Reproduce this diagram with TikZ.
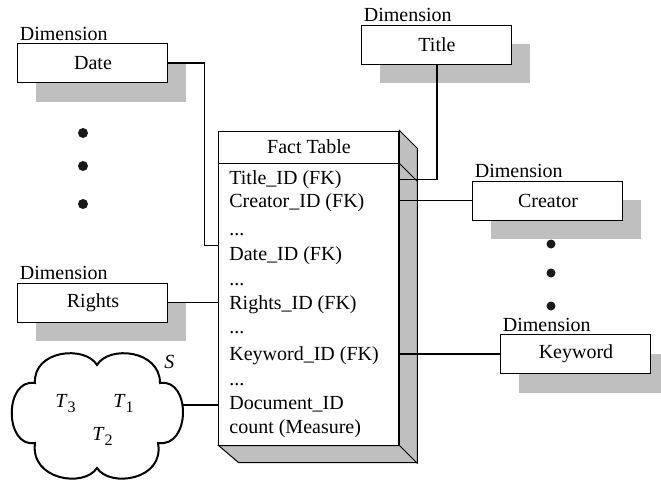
\documentclass[tikz,border=0pt]{standalone}
\usepackage{fontspec}
\setmainfont{Liberation Serif}
\usetikzlibrary{positioning, shadows}
\tikzstyle{dimbox} = [rectangle, minimum width=75pt, minimum height=19.5pt, text centered, draw=black, fill=white, line width=0.5pt, drop shadow={shadow xshift=9pt, shadow yshift=-9.5pt, fill=black!25, opacity=1}]
\tikzstyle{dimlabel} = [inner sep=1pt]
\tikzstyle{factface} = [rectangle, minimum width=90pt, minimum height=157pt, draw=black, fill=white, line width=0.5pt]
\tikzstyle{factside} = [draw=black, fill=black!25, line width=0.5pt]
\tikzstyle{row} = [anchor=base west, inner sep=0pt]
\tikzstyle{dot} = [circle, fill=black!90, inner sep=0pt, minimum size=5pt]
\tikzstyle{link} = [line width=0.6pt]

\begin{document}
\begin{tikzpicture}[x=0.5pt, y=-0.5pt]
  \useasboundingbox (0,0) rectangle (661,483);

  % Fact table with its 3D side
  \node (fact) [factface] at (309,288) {};
  \filldraw [factside] (fact.north east) -- ++(18,18) -- ++(0,314) -- ++(-179,0) -- (fact.south west) -- (fact.south east) -- cycle;
  \draw [factside] (fact.south east) -- ++(18,18);
  \node (head) [factface, minimum height=16pt, anchor=north] at (fact.north) {Fact Table};
  \draw [factside] (head.south east) -- ++(18,18);

  % Rows of the fact table
  \node (rTitle) [row] at (229,184) {Title\_ID (FK)};
  \node (rCreator) [row] at (229,207) {Creator\_ID (FK)};
  \node (rDots1) [row] at (229,235) {...};
  \node (rDate) [row] at (229,260) {Date\_ID (FK)};
  \node (rDots2) [row] at (229,285) {...};
  \node (rRights) [row] at (229,309) {Rights\_ID (FK)};
  \node (rDots3) [row] at (229,333) {...};
  \node (rKeyword) [row] at (229,360) {Keyword\_ID (FK)};
  \node (rDots4) [row] at (229,385) {...};
  \node (rDoc) [row] at (229,409) {Document\_ID};
  \node (rCount) [row] at (229,433) {count (Measure)};

  % Dimensions
  \node (date) [dimbox] at (93,63) {Date};
  \node (title) [dimbox] at (437,44.5) {Title};
  \node (creator) [dimbox] at (548,200.5) {Creator};
  \node (rights) [dimbox] at (93,302.5) {Rights};
  \node (keyword) [dimbox] at (576,354) {Keyword};

  \node (dateLbl) [dimlabel, above right=0pt and 0pt of date.north west] {Dimension};
  \node (titleLbl) [dimlabel, above right=0pt and 0pt of title.north west] {Dimension};
  \node (creatorLbl) [dimlabel, above right=0pt and 0pt of creator.north west] {Dimension};
  \node (rightsLbl) [dimlabel, above right=0pt and 0pt of rights.north west] {Dimension};
  \node (keywordLbl) [dimlabel, above right=0pt and 0pt of keyword.north west] {Dimension};

  % Dots between dimensions
  \foreach \y [count=\i] in {133,166,204}
    \node (dotL\i) [dot] at (83,\y) {};
  \foreach \y [count=\i] in {244,273,306}
    \node (dotR\i) [dot, minimum size=4.5pt] at (551,\y) {};

  % Cloud S
  \draw [line width=1pt] (35,383) .. controls (33,350) and (85,345) .. (97,365)
    .. controls (109,345) and (160,350) .. (160,383)
    .. controls (191,378) and (191,448) .. (158,443)
    .. controls (165,480) and (110,488) .. (97,468)
    .. controls (84,488) and (30,480) .. (35,443)
    .. controls (4,448) and (4,378) .. (35,383) -- cycle;
  \coordinate (cloudE) at (183,405);
  \node (sLbl) [row] at (164,368) {\textit{S}};
  \node (t3) [row] at (55,407) {\textit{T}\raisebox{-2.5pt}{\footnotesize 3}};
  \node (t1) [row] at (113,407) {\textit{T}\raisebox{-2.5pt}{\footnotesize 1}};
  \node (t2) [row] at (92,440) {\textit{T}\raisebox{-2.5pt}{\footnotesize 2}};

  % Links to the fact table
  \draw [link] (title.south) |- (rTitle.east -| fact.east);
  \draw [link] (creator.west) -- (creator.west -| fact.east);
  \draw [link] (date.east) -- ++(36,0) |- (rDate.north -| fact.west);
  \draw [link] (rights.east) -- (rights.east -| fact.west);
  \draw [link] (keyword.west) -- (keyword.west -| fact.east);
  \draw [link] (cloudE) -- (cloudE -| fact.west);
\end{tikzpicture}
\end{document}
